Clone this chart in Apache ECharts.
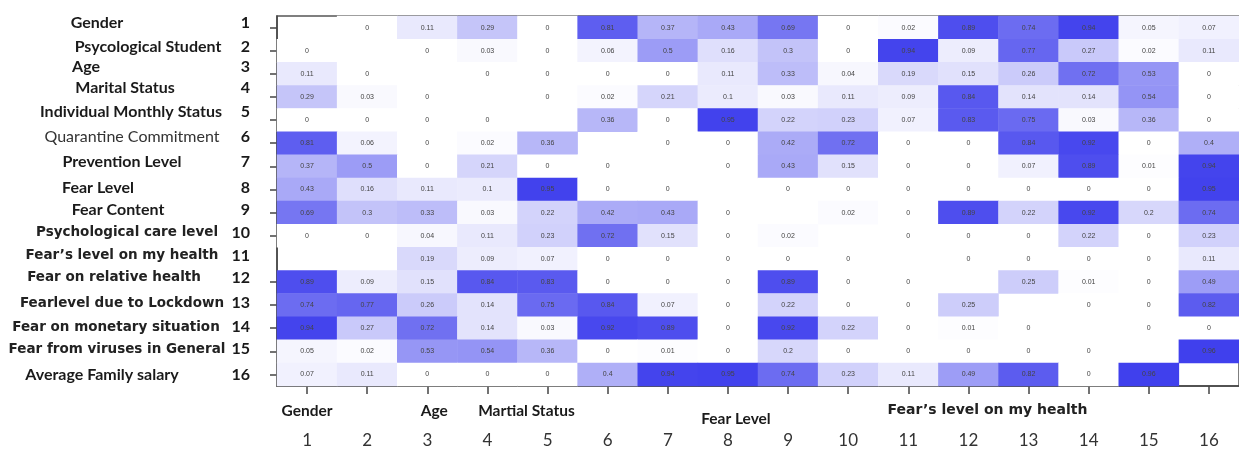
<!DOCTYPE html>
<html>
<head>
<meta charset="utf-8">
<script src="https://cdn.jsdelivr.net/npm/echarts@6/dist/echarts.min.js"></script>
<style>
  html, body { margin: 0; padding: 0; background: #ffffff; }
  #chart { width: 1239px; height: 453px; }
</style>
</head>
<body>
<div id="chart"></div>
<script>
// Variable numbers shown on both axes
const varIds = ['1','2','3','4','5','6','7','8','9','10','11','12','13','14','15','16'];

// Variable names down the left side
const rowNames = [
  'Gender',
  'Psycological Student',
  'Age',
  'Marital Status',
  'Individual Monthly Status',
  'Quarantine Commitment',
  'Prevention Level',
  'Fear Level',
  'Fear Content',
  'Psychological care level',
  'Fear\u2019s level on my health',
  'Fear on relative health',
  'Fearlevel due to Lockdown',
  'Fear on monetary situation',
  'Fear from viruses in General',
  'Average Family salary'
];

// Names written under some of the columns
const colNames = ['Gender', '', 'Age', 'Martial Status', '', '', '', 'Fear Level',
                  '', '', '', 'Fear\u2019s level on my health', '', '', '', ''];

// Pairwise association values, row by row (null = no cell drawn)
const corr = [
  [null, 0, 0.11, 0.29, 0, 0.81, 0.37, 0.43, 0.69, 0, 0.02, 0.89, 0.74, 0.94, 0.05, 0.07],
  [0, null, 0, 0.03, 0, 0.06, 0.5, 0.16, 0.3, 0, 0.94, 0.09, 0.77, 0.27, 0.02, 0.11],
  [0.11, 0, null, 0, 0, 0, 0, 0.11, 0.33, 0.04, 0.19, 0.15, 0.26, 0.72, 0.53, 0],
  [0.29, 0.03, 0, null, 0, 0.02, 0.21, 0.1, 0.03, 0.11, 0.09, 0.84, 0.14, 0.14, 0.54, 0],
  [0, 0, 0, 0, null, 0.36, 0, 0.95, 0.22, 0.23, 0.07, 0.83, 0.75, 0.03, 0.36, 0],
  [0.81, 0.06, 0, 0.02, 0.36, null, 0, 0, 0.42, 0.72, 0, 0, 0.84, 0.92, 0, 0.4],
  [0.37, 0.5, 0, 0.21, 0, 0, null, 0, 0.43, 0.15, 0, 0, 0.07, 0.89, 0.01, 0.94],
  [0.43, 0.16, 0.11, 0.1, 0.95, 0, 0, null, 0, 0, 0, 0, 0, 0, 0, 0.95],
  [0.69, 0.3, 0.33, 0.03, 0.22, 0.42, 0.43, 0, null, 0.02, 0, 0.89, 0.22, 0.92, 0.2, 0.74],
  [0, 0, 0.04, 0.11, 0.23, 0.72, 0.15, 0, 0.02, null, 0, 0, 0, 0.22, 0, 0.23],
  [null, null, 0.19, 0.09, 0.07, 0, 0, 0, 0, 0, null, 0, 0, 0, 0, 0.11],
  [0.89, 0.09, 0.15, 0.84, 0.83, 0, 0, 0, 0.89, 0, 0, null, 0.25, 0.01, 0, 0.49],
  [0.74, 0.77, 0.26, 0.14, 0.75, 0.84, 0.07, 0, 0.22, 0, 0, 0.25, null, 0, 0, 0.82],
  [0.94, 0.27, 0.72, 0.14, 0.03, 0.92, 0.89, 0, 0.92, 0.22, 0, 0.01, 0, null, 0, 0],
  [0.05, 0.02, 0.53, 0.54, 0.36, 0, 0.01, 0, 0.2, 0, 0, 0, 0, 0, null, 0.96],
  [0.07, 0.11, 0, 0, 0, 0.4, 0.94, 0.95, 0.74, 0.23, 0.11, 0.49, 0.82, 0, 0.96, null]
];

// Heatmap cells: [column, row, value]
const cells = [];
corr.forEach((row, r) => {
  row.forEach((v, c) => {
    if (v !== null) cells.push([c, r, v]);
  });
});

// Label layout for the left-hand names: text style and [dx, dy] nudge per row
const rowStyleKey = ['b','b','b','b','b','q','b','b','b','t','t','t','t','t','t','b'];
const rowLabelNudge = [
  [-23, -5], [28, -4], [-34, -7], [5, -9], [11, -8], [12, -6], [2, -4], [-22, -2],
  [-2, -3], [7, -3], [2, -3], [-6, -4], [2, -2], [-4, -1], [-3, -2], [-18, 0]
];

// padding that moves a centred label by dx horizontally and dy vertically
function nudgePadding(dx, dy) {
  return [dy > 0 ? 2 * dy : 0, dx < 0 ? -2 * dx : 0, dy < 0 ? -2 * dy : 0, dx > 0 ? 2 * dx : 0];
}

const nameRich = {};
const numRich = {};
const nameFont = {
  b: { fontFamily: 'Lato', fontWeight: 'bold', fontSize: 16, color: '#1a1a1a' },
  q: { fontFamily: 'Lato', fontWeight: 'normal', fontSize: 16, color: '#333333' },
  t: { fontFamily: 'DejaVu Sans', fontWeight: 'bold', fontSize: 13.5, color: '#222222' }
};
rowLabelNudge.forEach((n, i) => {
  nameRich['r' + i] = Object.assign({ padding: nudgePadding(n[0], n[1]) }, nameFont[rowStyleKey[i]]);
  numRich['n' + i] = {
    fontFamily: 'Lato', fontWeight: 'bold', fontSize: 16, color: '#1a1a1a',
    padding: nudgePadding(0, n[1])
  };
});

const chart = echarts.init(document.getElementById('chart'), null, { renderer: 'canvas' });

chart.setOption({
  animation: false,
  backgroundColor: '#ffffff',
  grid: {
    left: 277, top: 16, width: 973, height: 370,
    show: true, borderColor: '#555', borderWidth: 1.5, backgroundColor: 'transparent'
  },
  xAxis: [
    {
      type: 'category', data: varIds, position: 'bottom',
      axisLine: { show: true, lineStyle: { color: '#444', width: 1.5 } },
      axisTick: { show: true, alignWithLabel: true, length: 8, lineStyle: { color: '#444', width: 1.5 } },
      axisLabel: { interval: 0, margin: 46, fontFamily: 'Lato', fontSize: 17, color: '#333' },
      splitLine: { show: false }, splitArea: { show: false }
    },
    {
      type: 'category', data: colNames, position: 'bottom', gridIndex: 0,
      axisLine: { show: false }, axisTick: { show: false },
      axisLabel: {
        interval: 0, margin: 17, color: '#1a1a1a',
        formatter: (val, i) => {
          if (!val) return '';
          const key = ['g', '', 'a', 'm', '', '', '', 'f', '', '', '', 'h'][i] || 'g';
          return '{' + key + '|' + val + '}';
        },
        rich: {
          g: { fontFamily: 'Lato', fontWeight: 'bold', fontSize: 15.5, color: '#1a1a1a' },
          a: { fontFamily: 'Lato', fontWeight: 'bold', fontSize: 15.5, color: '#1a1a1a', padding: [0, 0, 0, 14] },
          m: { fontFamily: 'Lato', fontWeight: 'bold', fontSize: 15.5, color: '#1a1a1a', padding: [0, 0, 0, 78] },
          f: { fontFamily: 'Lato', fontWeight: 'bold', fontSize: 15.5, color: '#1a1a1a', padding: [8, 0, 0, 16] },
          h: { fontFamily: 'DejaVu Sans', fontWeight: 'bold', fontSize: 14, color: '#222', padding: [0, 0, 0, 38] }
        }
      },
      splitLine: { show: false }
    }
  ],
  yAxis: [
    {
      type: 'category', data: varIds, inverse: true, position: 'left',
      axisLine: { show: true, lineStyle: { color: '#444', width: 1.5 } },
      axisTick: {
        show: true, alignWithLabel: true, length: 7,
        interval: (i) => i !== 10,
        lineStyle: { color: '#444', width: 1.5 }
      },
      axisLabel: {
        interval: 0, margin: 27,
        formatter: (val, i) => '{n' + i + '|' + val + '}',
        rich: numRich
      },
      splitLine: { show: false }, splitArea: { show: false }
    },
    {
      type: 'category', data: rowNames, inverse: true, position: 'left', gridIndex: 0,
      axisLine: { show: false }, axisTick: { show: false },
      axisLabel: {
        interval: 0, margin: 157, align: 'center',
        formatter: (val, i) => '{r' + i + '|' + val + '}',
        rich: nameRich
      },
      splitLine: { show: false }
    }
  ],
  visualMap: {
    show: false, min: 0, max: 1, dimension: 2,
    inRange: { color: ['#ffffff', '#3838ec'] }
  },
  series: [{
    type: 'heatmap',
    xAxisIndex: 0, yAxisIndex: 0,
    data: cells,
    label: {
      show: true, fontSize: 7, color: '#444', fontFamily: 'Arial, Liberation Sans, sans-serif',
      formatter: p => String(p.value[2])
    },
    itemStyle: { borderWidth: 0 },
    emphasis: { disabled: true }
  }]
});
</script>
</body>
</html>
